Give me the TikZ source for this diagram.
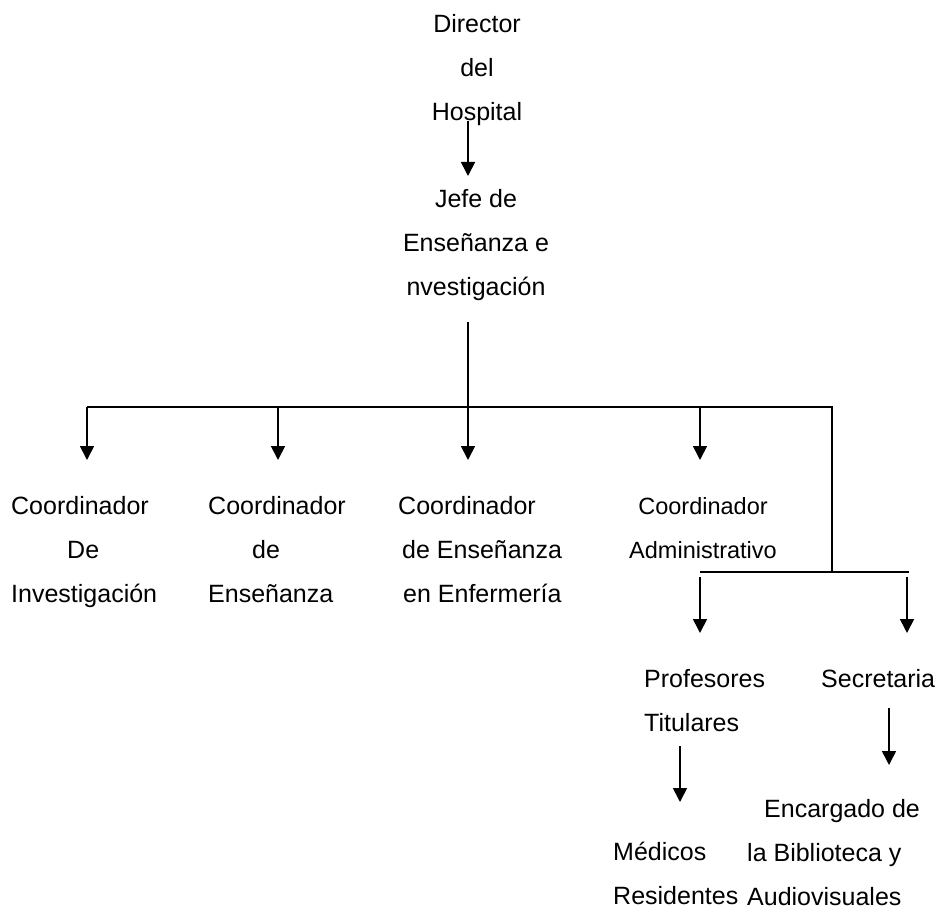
\documentclass[tikz,border=0pt]{standalone}
\usepackage{fontspec}
\setmainfont{Liberation Sans}
\usetikzlibrary{arrows.meta}
\begin{document}
\begin{tikzpicture}[x=1pt,y=-1pt,
  lbl/.style={inner sep=0pt, font=\fontsize{25}{44}\selectfont},
  lblc/.style={lbl, align=center, anchor=north},
  lbll/.style={lbl, align=left, anchor=north west},
  conn/.style={line width=1.7pt},
  arr/.style={conn, -{Triangle[width=14pt,length=14pt]}}]
\useasboundingbox (0,0) rectangle (944,909);
% text nodes
\node[lblc] (dir) at (477,14) {Director\\del\\Hospital};
\node[lblc] (jefe) at (476,189) {Jefe de\\Enseñanza e\\nvestigación};
\node[lbll] (cinv) at (11,496) {Coordinador\\\hspace*{56pt}De\\Investigación};
\node[lbll] (cens) at (208,496) {Coordinador\\\hspace*{44pt}de\\Enseñanza};
\node[lbll] (cenf) at (398,496) {Coordinador\\\hspace*{4pt}de Enseñanza\\\hspace*{5pt}en Enfermería};
\node[lblc, font=\fontsize{23.5}{44}\selectfont] (cadm) at (703,497) {Coordinador\\Administrativo};
\node[lbll] (prof) at (644,669) {Profesores\\Titulares};
\node[lbll] (secr) at (821,669) {Secretaria};
\node[lbll] (med) at (613,842) {Médicos\\Residentes};
\node[lbll] (enc) at (747,799) {\hspace*{17pt}Encargado de\\la Biblioteca y\\Audiovisuales};
% connector points
\coordinate (dirS) at (468,121);
\coordinate (jefeN) at (468,176);
\coordinate (jefeS) at (468,322);
\coordinate (busM) at (468,407);
\coordinate (busL) at (87,407);
\coordinate (bus2) at (278,407);
\coordinate (bus4) at (700,407);
\coordinate (busR) at (832,407);
\coordinate (busD) at (832,572);
\coordinate (lowL) at (700,572);
\coordinate (lowR) at (909,572);
\coordinate (profTop) at (700,577);
\coordinate (secTop) at (907,577);
\coordinate (profS) at (680,746);
\coordinate (secS) at (889,708);
% connectors
\draw[arr] (dirS) -- (jefeN);
\draw[conn] (jefeS) -- (busM);
\draw[conn] (busL) -- (busR) -- (busD);
\draw[conn] (lowL) -- (lowR);
\draw[arr] (busL) -- (87,460) coordinate (cinvN);
\draw[arr] (bus2) -- (278,460) coordinate (censN);
\draw[arr] (busM) -- (468,460) coordinate (cenfN);
\draw[arr] (bus4) -- (700,460) coordinate (cadmN);
\draw[arr] (profTop) -- (700,633) coordinate (profN);
\draw[arr] (secTop) -- (907,633) coordinate (secrN);
\draw[arr] (profS) -- (680,802) coordinate (medN);
\draw[arr] (secS) -- (889,765) coordinate (encN);
\end{tikzpicture}
\end{document}
